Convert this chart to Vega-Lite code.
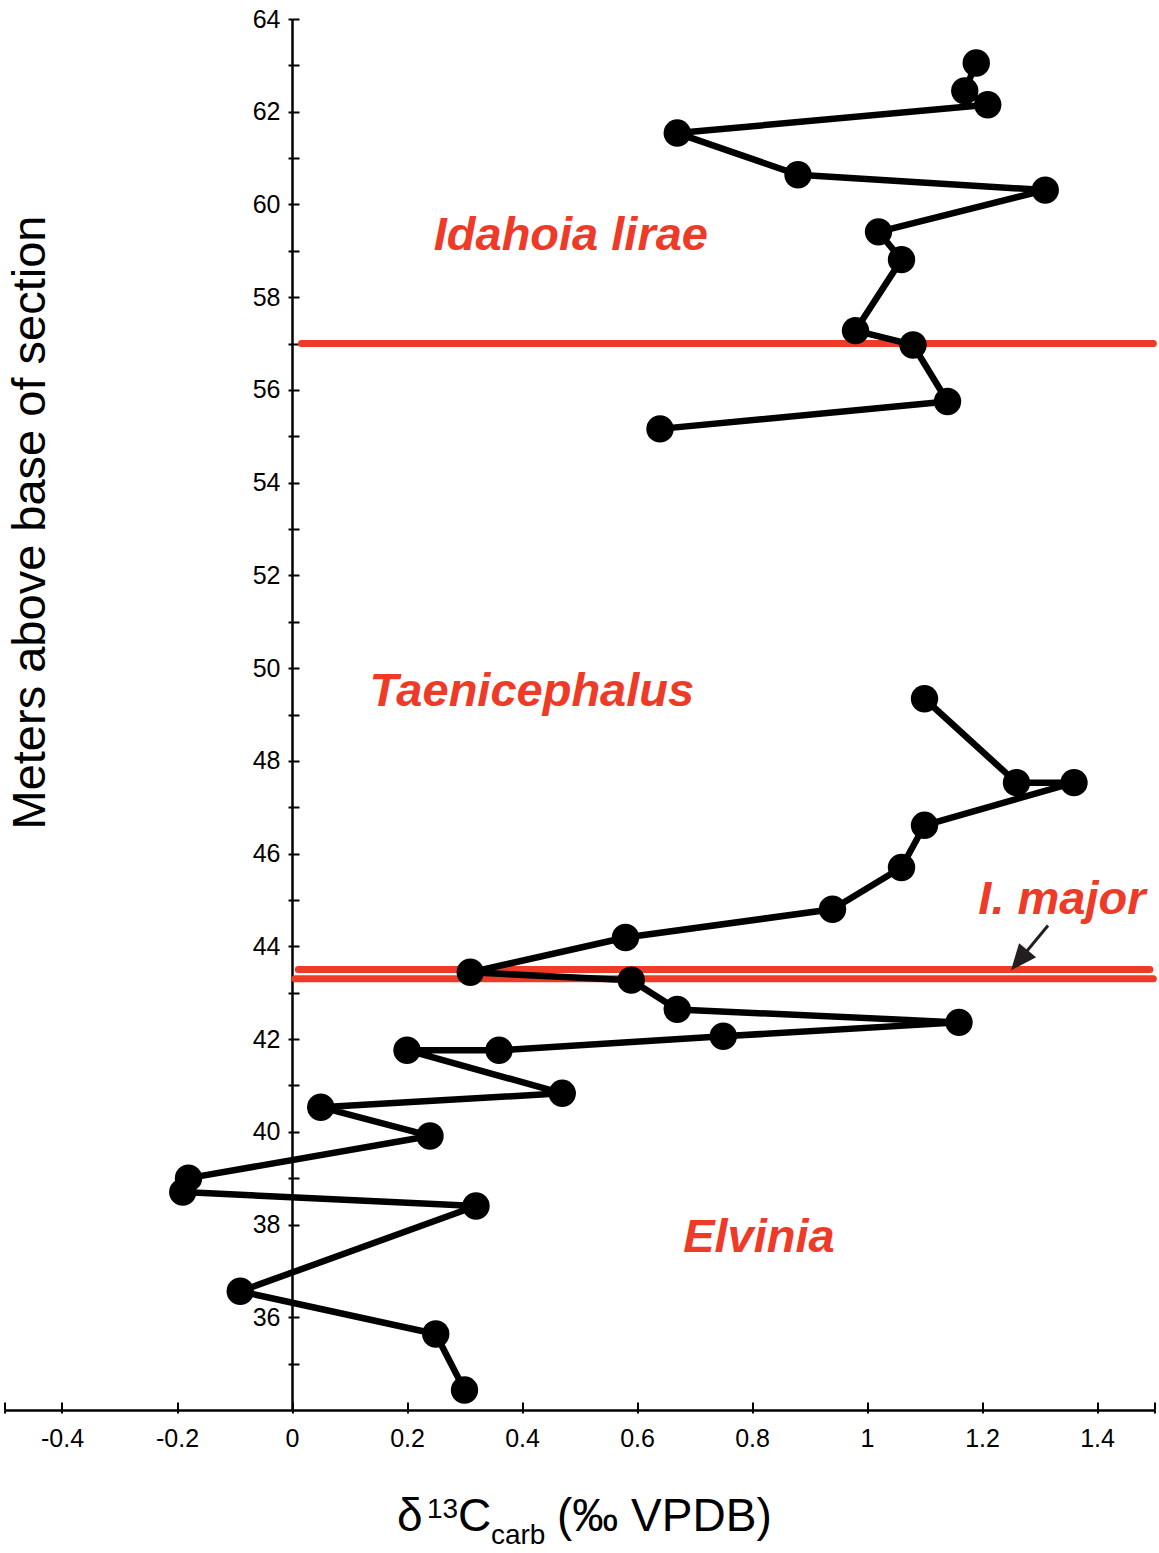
{
  "$schema": "https://vega.github.io/schema/vega-lite/v6.json",
  "width": 1150,
  "height": 1391,
  "autosize": {"type": "none"},
  "padding": {"left": 4.5, "top": 19, "right": 4.5, "bottom": 143},
  "background": "white",
  "config": {
    "view": {"stroke": null},
    "font": "Liberation Sans",
    "axis": {
      "grid": false,
      "domainColor": "black",
      "tickColor": "black",
      "labelColor": "black",
      "titleColor": "black",
      "labelFont": "Liberation Sans",
      "titleFont": "Liberation Sans",
      "titleFontWeight": "normal"
    }
  },
  "datasets": {
    "d13c": [
      {"seq": 1, "seg": "upper", "d13c": 1.19, "m": 63.05},
      {"seq": 2, "seg": "upper", "d13c": 1.17, "m": 62.45},
      {"seq": 3, "seg": "upper", "d13c": 1.21, "m": 62.15},
      {"seq": 4, "seg": "upper", "d13c": 0.67, "m": 61.54},
      {"seq": 5, "seg": "upper", "d13c": 0.88, "m": 60.64},
      {"seq": 6, "seg": "upper", "d13c": 1.31, "m": 60.31},
      {"seq": 7, "seg": "upper", "d13c": 1.02, "m": 59.41},
      {"seq": 8, "seg": "upper", "d13c": 1.06, "m": 58.81},
      {"seq": 9, "seg": "upper", "d13c": 0.98, "m": 57.28},
      {"seq": 10, "seg": "upper", "d13c": 1.08, "m": 56.97},
      {"seq": 11, "seg": "upper", "d13c": 1.14, "m": 55.75},
      {"seq": 12, "seg": "upper", "d13c": 0.64, "m": 55.16},
      {"seq": 13, "seg": "lower", "d13c": 1.10, "m": 49.34},
      {"seq": 14, "seg": "lower", "d13c": 1.26, "m": 47.53},
      {"seq": 15, "seg": "lower", "d13c": 1.36, "m": 47.53},
      {"seq": 16, "seg": "lower", "d13c": 1.10, "m": 46.61},
      {"seq": 17, "seg": "lower", "d13c": 1.06, "m": 45.70},
      {"seq": 18, "seg": "lower", "d13c": 0.94, "m": 44.80},
      {"seq": 19, "seg": "lower", "d13c": 0.58, "m": 44.19},
      {"seq": 20, "seg": "lower", "d13c": 0.31, "m": 43.44},
      {"seq": 21, "seg": "lower", "d13c": 0.59, "m": 43.27},
      {"seq": 22, "seg": "lower", "d13c": 0.67, "m": 42.64},
      {"seq": 23, "seg": "lower", "d13c": 1.16, "m": 42.36},
      {"seq": 24, "seg": "lower", "d13c": 0.75, "m": 42.06},
      {"seq": 25, "seg": "lower", "d13c": 0.36, "m": 41.76},
      {"seq": 26, "seg": "lower", "d13c": 0.20, "m": 41.76},
      {"seq": 27, "seg": "lower", "d13c": 0.47, "m": 40.83},
      {"seq": 28, "seg": "lower", "d13c": 0.05, "m": 40.53},
      {"seq": 29, "seg": "lower", "d13c": 0.24, "m": 39.91},
      {"seq": 30, "seg": "lower", "d13c": -0.18, "m": 39.00},
      {"seq": 31, "seg": "lower", "d13c": -0.19, "m": 38.70},
      {"seq": 32, "seg": "lower", "d13c": 0.32, "m": 38.40},
      {"seq": 33, "seg": "lower", "d13c": -0.09, "m": 36.56},
      {"seq": 34, "seg": "lower", "d13c": 0.25, "m": 35.64},
      {"seq": 35, "seg": "lower", "d13c": 0.30, "m": 34.43}
    ],
    "boundaries": [
      {"m": 57.0, "from": 0.0165, "to": 1.498},
      {"m": 43.5, "from": 0.011, "to": 1.492},
      {"m": 43.3, "from": 0.005, "to": 1.498}
    ],
    "zones": [
      {"name": "Idahoia lirae", "d13c": 0.485, "m": 59.02},
      {"name": "Taenicephalus", "d13c": 0.417, "m": 49.18},
      {"name": "I. major", "d13c": 1.339, "m": 44.69},
      {"name": "Elvinia", "d13c": 0.812, "m": 37.40}
    ],
    "arrow": [
      {"d13c": 1.3148, "m": 44.45, "d13c2": 1.2649, "m2": 43.70}
    ],
    "xtitleMain": [
      {"t": "δ", "d13c": 0.1826, "m": 31.39},
      {"t": "C", "d13c": 0.2887, "m": 31.39},
      {"t": "(‰ VPDB)", "d13c": 0.4609, "m": 31.39}
    ],
    "xtitleSmall": [
      {"t": "13", "d13c": 0.2348, "m": 31.67},
      {"t": "carb", "d13c": 0.346, "m": 31.11}
    ]
  },
  "layer": [
    {
      "data": {"name": "boundaries"},
      "mark": {"type": "rule", "color": "#EE3A26", "strokeWidth": 7, "strokeCap": "round"},
      "encoding": {
        "x": {"field": "from", "type": "quantitative", "scale": {"domain": [-0.5, 1.5], "nice": false, "zero": false}, "axis": null},
        "x2": {"field": "to"},
        "y": {"field": "m", "type": "quantitative", "scale": {"domain": [34, 64], "nice": false, "zero": false}, "axis": null}
      }
    },
    {
      "data": {"name": "d13c"},
      "mark": {"type": "line", "color": "black", "strokeWidth": 6.5, "strokeJoin": "round"},
      "encoding": {
        "x": {
          "field": "d13c", "type": "quantitative",
          "scale": {"domain": [-0.5, 1.5], "nice": false, "zero": false},
          "axis": {
            "orient": "bottom",
            "values": [-0.5, -0.4, -0.2, 0, 0.2, 0.4, 0.6, 0.8, 1, 1.2, 1.4, 1.5],
            "labelExpr": "datum.value == -0.5 || datum.value == 1.5 ? '' : toString(datum.value)",
            "tickSize": 3, "tickWidth": 2, "domainWidth": 2.5,
            "labelFontSize": 25, "labelPadding": 13, "labelFlush": false, "labelOverlap": false,
            "title": null
          }
        },
        "y": {
          "field": "m", "type": "quantitative",
          "scale": {"domain": [34, 64], "nice": false, "zero": false},
          "axis": {
            "orient": "left",
            "offset": -287.5,
            "values": [35, 36, 37, 38, 39, 40, 41, 42, 43, 44, 45, 46, 47, 48, 49, 50, 51, 52, 53, 54, 55, 56, 57, 58, 59, 60, 61, 62, 63, 64],
            "labelExpr": "datum.value % 2 == 0 ? datum.label : ''",
            "tickSize": 4, "tickWidth": 2, "domainWidth": 2.5,
            "labelFontSize": 25, "labelPadding": 8, "labelFlush": false, "labelOverlap": false,
            "title": "Meters above base of section",
            "titleFontSize": 47,
            "titleAngle": 270,
            "titleBaseline": "alphabetic",
            "titleAlign": "center",
            "titleX": -248,
            "titleY": 503
          }
        },
        "order": {"field": "seq", "type": "quantitative"},
        "detail": {"field": "seg", "type": "nominal"}
      }
    },
    {
      "data": {"name": "d13c"},
      "mark": {"type": "point", "shape": "circle", "filled": true, "color": "black", "opacity": 1, "size": 750},
      "encoding": {
        "x": {
          "field": "d13c", "type": "quantitative",
          "scale": {"domain": [-0.5, 1.5], "nice": false, "zero": false},
          "axis": {
            "orient": "top",
            "offset": -1391,
            "values": [-0.5, -0.4, -0.2, 0, 0.2, 0.4, 0.6, 0.8, 1, 1.2, 1.4, 1.5],
            "labels": false, "domain": false,
            "tickSize": 8, "tickWidth": 2,
            "title": null
          }
        },
        "y": {
          "field": "m", "type": "quantitative",
          "scale": {"domain": [34, 64], "nice": false, "zero": false},
          "axis": {
            "orient": "right",
            "offset": -862.5,
            "values": [35, 36, 37, 38, 39, 40, 41, 42, 43, 44, 45, 46, 47, 48, 49, 50, 51, 52, 53, 54, 55, 56, 57, 58, 59, 60, 61, 62, 63, 64],
            "labels": false, "domain": false,
            "tickSize": 7, "tickWidth": 2,
            "title": null
          }
        }
      }
    },
    {
      "data": {"name": "arrow"},
      "mark": {"type": "rule", "color": "#231F20", "strokeWidth": 3},
      "encoding": {
        "x": {"field": "d13c", "type": "quantitative", "axis": null},
        "x2": {"field": "d13c2"},
        "y": {"field": "m", "type": "quantitative", "axis": null},
        "y2": {"field": "m2"}
      }
    },
    {
      "data": {"name": "arrow"},
      "mark": {"type": "point", "shape": "M0,1L-0.85,-1L0.85,-1Z", "filled": true, "color": "#231F20", "opacity": 1, "size": 676, "angle": 39.6},
      "encoding": {
        "x": {"field": "d13c2", "type": "quantitative", "axis": null},
        "y": {"field": "m2", "type": "quantitative", "axis": null}
      }
    },
    {
      "data": {"name": "zones"},
      "mark": {"type": "text", "color": "#EE3A26", "fontSize": 47, "fontWeight": "bold", "fontStyle": "italic", "align": "center", "baseline": "alphabetic", "font": "Liberation Sans"},
      "encoding": {
        "x": {"field": "d13c", "type": "quantitative", "axis": null},
        "y": {"field": "m", "type": "quantitative", "axis": null},
        "text": {"field": "name"}
      }
    },
    {
      "data": {"name": "xtitleMain"},
      "mark": {"type": "text", "color": "black", "fontSize": 46, "align": "left", "baseline": "alphabetic", "font": "Liberation Sans"},
      "encoding": {
        "x": {"field": "d13c", "type": "quantitative", "axis": null},
        "y": {"field": "m", "type": "quantitative", "axis": null},
        "text": {"field": "t"}
      }
    },
    {
      "data": {"name": "xtitleSmall"},
      "mark": {"type": "text", "color": "black", "fontSize": 28, "align": "left", "baseline": "alphabetic", "font": "Liberation Sans"},
      "encoding": {
        "x": {"field": "d13c", "type": "quantitative", "axis": null},
        "y": {"field": "m", "type": "quantitative", "axis": null},
        "text": {"field": "t"}
      }
    }
  ],
  "resolve": {"axis": {"x": "independent", "y": "independent"}}
}
